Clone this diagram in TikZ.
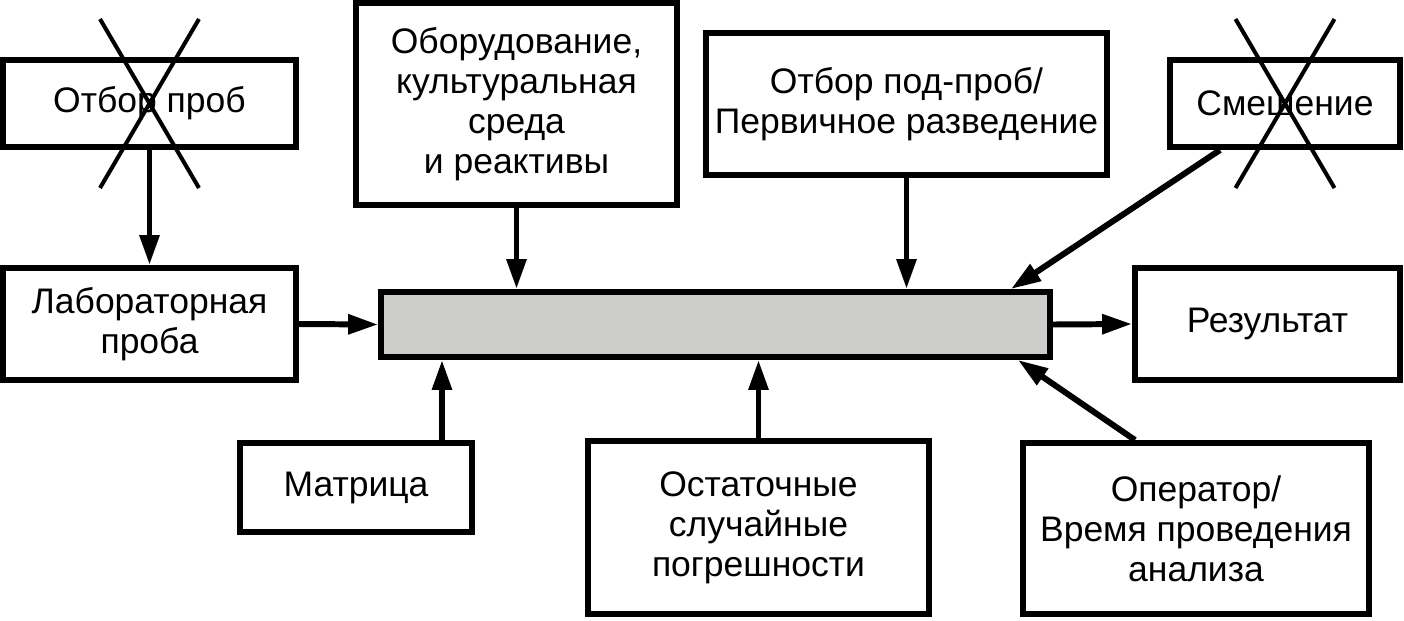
\documentclass[tikz,border=0pt]{standalone}
\usepackage{fontspec}
\setmainfont{Liberation Sans}
\usetikzlibrary{arrows.meta}
\definecolor{coregray}{RGB}{204,205,202}

\begin{document}
\begin{tikzpicture}[
     x = 0.02cm, y = -0.02cm,
     > = {Triangle[length=6mm,width=3.8mm]},
   box/.style = {draw, line width=3.4pt, inner sep=0pt, align=center,
                 font=\fontsize{20.2pt}{22.8pt}\selectfont},
  link/.style = {line width=3.4pt, ->},
 cross/.style = {line width=2.3pt}
                        ]
\useasboundingbox (0,0) rectangle (1404,620);
% boxes
\node[box, minimum width=5.86cm, minimum height=1.74cm] (probe)  at (149.5,103.5) {Отбор проб};
\node[box, minimum width=5.86cm, minimum height=2.24cm] (lab)    at (149.5,324)   {Лабораторная\\проба};
\node[box, minimum width=6.42cm, minimum height=4.04cm] (equip)  at (516.5,104)   {Оборудование,\\культуральная\\среда\\и реактивы};
\node[box, minimum width=8.02cm, minimum height=2.84cm] (subs)   at (906.5,104)   {Отбор под-проб/\\Первичное разведение};
\node[box, minimum width=4.60cm, minimum height=1.74cm] (mix)    at (1285,103.5)  {Смешение};
\node[box, fill=coregray, minimum width=13.38cm, minimum height=1.30cm] (core) at (715.5,324.5) {};
\node[box, minimum width=5.30cm, minimum height=2.24cm] (result) at (1267.5,324)  {Результат};
\node[box, minimum width=4.64cm, minimum height=1.78cm] (matrix) at (356,487.5)   {Матрица};
\node[box, minimum width=6.82cm, minimum height=3.46cm] (resid)  at (758.5,527.5) {Остаточные\\случайные\\погрешности};
\node[box, minimum width=6.92cm, minimum height=3.42cm] (oper)   at (1196,528.5)  {Оператор/\\Время проведения\\анализа};
% crossed out boxes
\foreach \n in {probe,mix}
    \draw[cross] ([shift={(-0.99cm,1.69cm)}]\n.center) -- ([shift={(0.99cm,-1.69cm)}]\n.center)
                 ([shift={(0.99cm,1.69cm)}]\n.center) -- ([shift={(-0.99cm,-1.69cm)}]\n.center);
% links
\draw[link] (probe) -- (lab);
\draw[link] (lab.east) -- (core.west);
\draw[link] (core.east) -- (result.west);
\draw[link] (equip.south) -- (equip.south |- core.north);
\draw[link] (subs.south) -- (subs.south |- core.north);
\draw[link] ([xshift=-1.3cm]mix.south) -- ([xshift=-0.84cm]core.north east);
\draw[link] ([xshift=1.72cm]matrix.north) -- ([xshift=1.72cm]matrix.north |- core.south);
\draw[link] (resid.north) -- (resid.north |- core.south);
\draw[link] ([xshift=-1.22cm]oper.north) -- ([xshift=-0.7cm]core.south east);
\end{tikzpicture}
\end{document}
